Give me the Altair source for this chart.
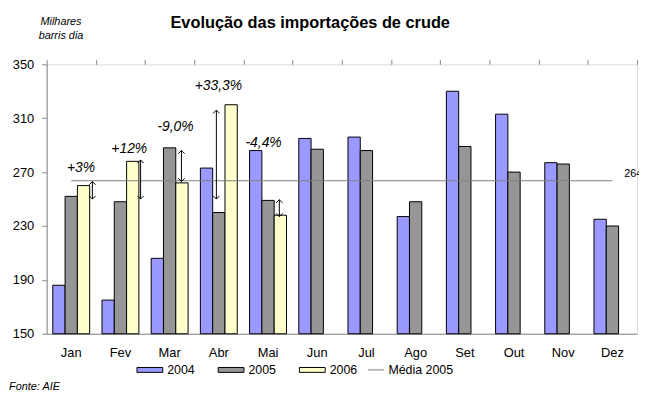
import altair as alt
import pandas as pd

FONT = "Liberation Sans"

# ---- data ----
months = ["Jan", "Fev", "Mar", "Abr", "Mai", "Jun", "Jul", "Ago", "Set", "Out", "Nov", "Dez"]
years = ["2004", "2005", "2006"]
v2004 = [186, 175, 206, 273, 286, 295, 296, 237, 330, 313, 277, 235]
v2005 = [252, 248, 288, 240, 249, 287, 286, 248, 289, 270, 276, 230]
v2006 = [260, 278, 262, 320, 238]
y_ticks = [150, 190, 230, 270, 310, 350]

pct_labels = ["+3%", "+12%", "-9,0%", "+33,3%", "-4,4%"]
arrow_top = [263, 279, 286, 316, 249.5]
arrow_bottom = [250, 250, 263, 250, 237]

# annotation placement (x in month units, y in value units)
label_x = [0.70, 1.68, 2.62, 3.49, 4.41]
label_y = [273, 287, 303.4, 334, 291.6]
arrow_x = [0.93, 1.91, 2.74, 3.45, 4.73]
month_edges = list(range(len(months) + 1))   # category boundaries, in month units

title_text = "Evolução das importações de crude"
source_text = "Fonte: AIE"

colors = ["#9999FF", "#969696", "#FFFFCC"]
line_color = "#808080"

media_2005 = round(sum(v2005) / len(v2005), 1)

# ---- tables ----
rows = []
for series, vals in zip(years, [v2004, v2005, v2006]):
    for m, v in zip(months, vals):
        rows.append({"month": m, "year": series, "value": v})
bars_df = pd.DataFrame(rows)

ann_df = pd.DataFrame({
    "label": pct_labels, "lx": label_x, "ly": label_y,
    "ax": arrow_x, "top": arrow_top, "bottom": arrow_bottom,
})
media_df = pd.DataFrame({"x0": [0.5], "x1": [11.5], "y": [media_2005],
                         "serie": ["Média 2005"], "lab": [f"{media_2005:.0f}"], "lx": [11.74]})

W, H = 596, 272

y_scale = alt.Scale(domain=[150, 350], nice=False, zero=False)
y_axis = alt.Axis(values=y_ticks, title=["Milhares", "barris dia"], titleAngle=0,
                  titleAlign="center", titleBaseline="alphabetic", titleX=14, titleY=-40,
                  titleFontSize=11, titleFontStyle="italic", titleFontWeight="normal",
                  titleLineHeight=14, titleFont=FONT, titleColor="black",
                  tickSize=5, labelPadding=8, labelFontSize=13, grid=False)
xq_scale = alt.Scale(domain=[0, 12], nice=False, zero=False)

hidden_axis = alt.Axis(values=month_edges, labels=False, ticks=False, domain=False, grid=False,
                       gridOpacity=0, gridColor="white", title=None)
edge_axis = alt.Axis(values=month_edges, labels=False, ticks=True, tickSize=5, domain=False,
                     grid=False, gridOpacity=0, gridColor="white", title=None)

def Y(field):
    return alt.Y(field, type="quantitative", scale=y_scale, axis=y_axis)

def XQ(field, axis=hidden_axis):
    return alt.X(field, type="quantitative", scale=xq_scale, axis=axis)

bars = alt.Chart(bars_df).mark_bar(stroke="black", strokeWidth=1, opacity=1).encode(
    x=alt.X("month:N", sort=months,
            scale=alt.Scale(paddingInner=0.25, paddingOuter=0.125),
            axis=alt.Axis(title=None, labelAngle=0, ticks=False, labelPadding=13,
                          labelFontSize=13, grid=False, domain=True)),
    xOffset=alt.XOffset("year:N", scale=alt.Scale(domain=years, paddingInner=0, paddingOuter=0)),
    y=Y("value"),
    y2=alt.datum(150),
    fill=alt.Fill("year:N", scale=alt.Scale(domain=years, range=colors),
                  legend=alt.Legend(orient="none", direction="horizontal", legendX=90.7, legendY=295,
                                    title=None, padding=0,
                                    symbolType="M-1,-0.19H1V0.19H-1Z", symbolSize=676,
                                    symbolStrokeColor="black", symbolStrokeWidth=1, symbolOpacity=1,
                                    labelFontSize=12.5, labelOffset=4, columnPadding=21,
                                    labelFont=FONT, labelColor="black")),
)

media_rule = alt.Chart(media_df).mark_rule(strokeWidth=1).encode(
    x=XQ("x0", axis=edge_axis), x2="x1", y=Y("y"),
    stroke=alt.Stroke("serie:N", scale=alt.Scale(domain=["Média 2005"], range=[line_color]),
                      legend=alt.Legend(orient="none", direction="horizontal", legendX=324, legendY=300,
                                        title=None, padding=0, symbolType="stroke", symbolSize=256,
                                        symbolStrokeWidth=1, labelFontSize=12.5, labelOffset=4,
                                        labelFont=FONT, labelColor="black")),
)

media_text = alt.Chart(media_df).mark_text(align="left", baseline="middle", dy=-6.5,
                                            fontSize=11, font=FONT, color="black").encode(
    x=XQ("lx"), y=Y("y"), text="lab:N")

arrows = alt.Chart(ann_df).mark_rule(color="black", strokeWidth=1).encode(
    x=XQ("ax"), y=Y("top"), y2="bottom")

heads_up = alt.Chart(ann_df).mark_point(shape="M-1,1L0,0L1,1", filled=False, size=42,
                                         stroke="black", strokeWidth=1, opacity=1).encode(
    x=XQ("ax"), y=Y("top"))
heads_down = alt.Chart(ann_df).mark_point(shape="M-1,-1L0,0L1,-1", filled=False, size=42,
                                           stroke="black", strokeWidth=1, opacity=1).encode(
    x=XQ("ax"), y=Y("bottom"))

pct_text = alt.Chart(ann_df).mark_text(align="center", baseline="middle", fontSize=14,
                                        fontStyle="italic", font=FONT, color="black").encode(
    x=XQ("lx"), y=Y("ly"), text="label:N")

title = alt.Chart(pd.DataFrame({"t": [title_text]})).mark_text(
    align="left", baseline="alphabetic", fontSize=16.5, fontWeight="bold", font=FONT, color="black"
).encode(x=alt.value(125), y=alt.value(-36.3), text="t:N")

fonte = alt.Chart(pd.DataFrame({"t": [source_text]})).mark_text(
    align="left", baseline="middle", fontSize=11, fontStyle="italic", font=FONT, color="black"
).encode(x=alt.value(-38), y=alt.value(326), text="t:N")

chart = alt.layer(
    bars, media_rule, media_text, arrows, heads_up, heads_down, pct_text, title, fonte
).resolve_scale(x="independent").resolve_axis(x="independent").properties(
    width=W, height=H,
    autosize=alt.AutoSizeParams(type="none"),
    padding={"left": 39, "top": 55, "right": 2, "bottom": 66},
).configure_view(stroke=None).configure_axis(
    labelFont=FONT, labelColor="black", domainColor="black", tickColor="black",
    domainWidth=1, tickWidth=1, grid=False
).configure(background="white")

chart.save("out.html", embed_options={"renderer": "svg", "actions": False})
